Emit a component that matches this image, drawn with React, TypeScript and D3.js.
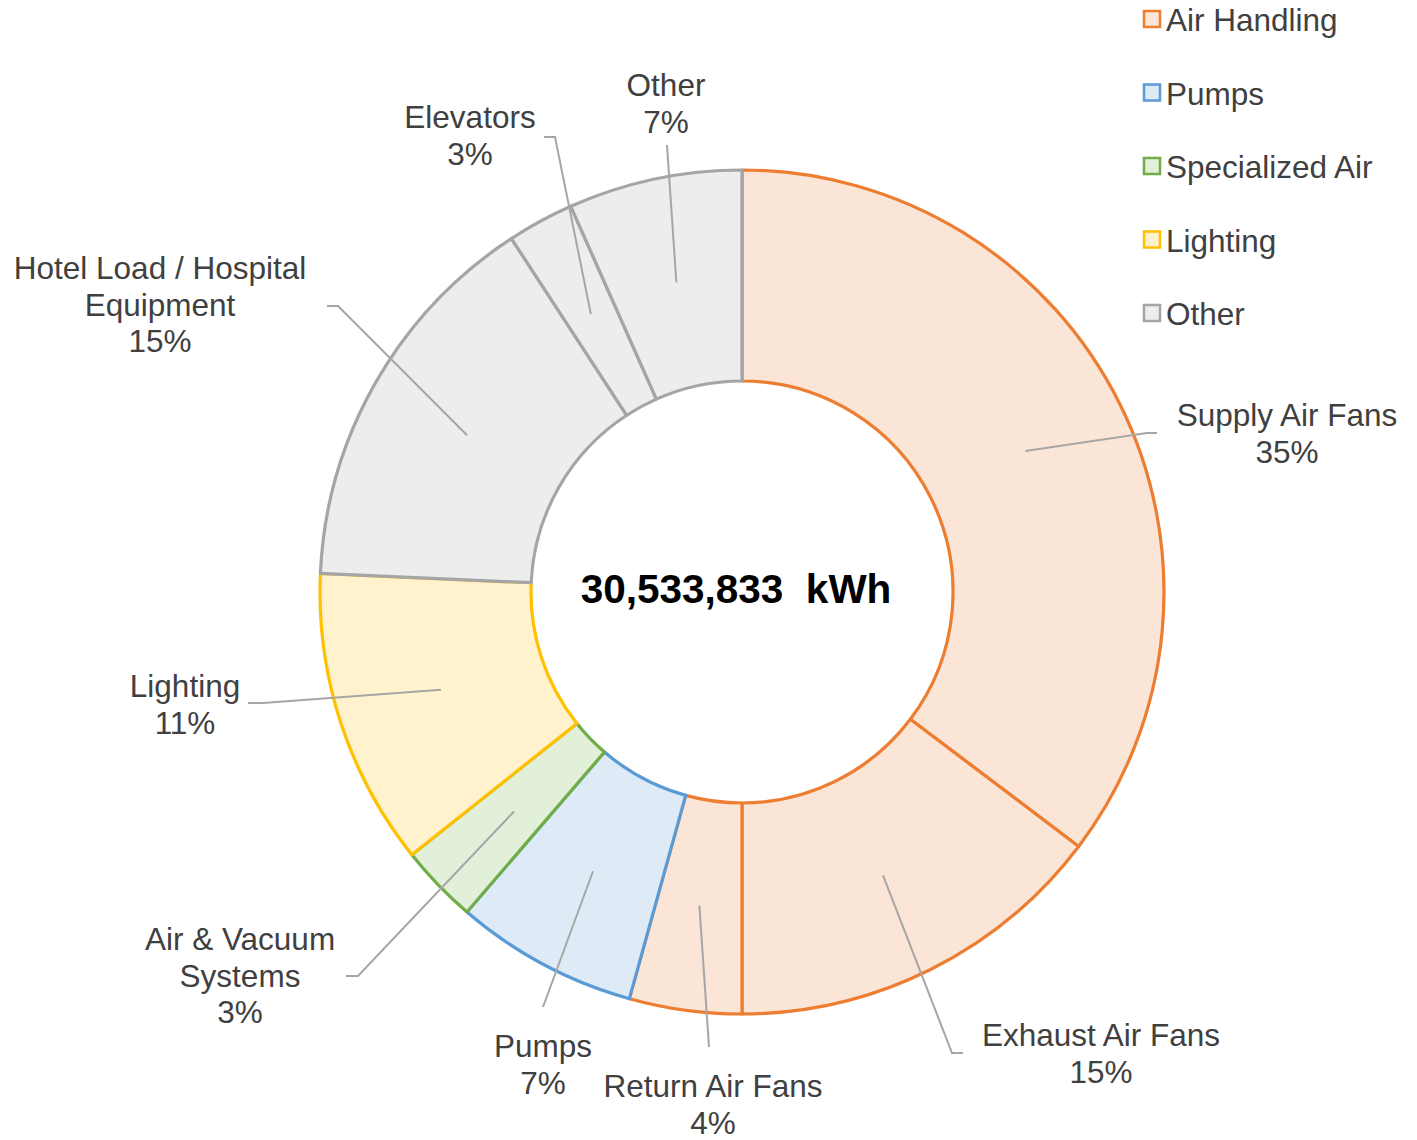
import React from "react";
import * as d3 from "d3";

// slice data, clockwise from 12 o'clock
const categories = [
  "Supply Air Fans",
  "Exhaust Air Fans",
  "Return Air Fans",
  "Pumps",
  "Air & Vacuum Systems",
  "Lighting",
  "Hotel Load / Hospital Equipment",
  "Elevators",
  "Other",
];
const shares = [35.3, 14.7, 4.3, 7.0, 3.0, 11.4, 15.1, 2.55, 6.65];
const groups = [
  "Air Handling",
  "Air Handling",
  "Air Handling",
  "Pumps",
  "Specialized Air",
  "Lighting",
  "Other",
  "Other",
  "Other",
];
const legendGroups = ["Air Handling", "Pumps", "Specialized Air", "Lighting", "Other"];
const totalKWh = 30533833;

// label wrapping as in the original
const labelLines = [
  ["Supply Air Fans"],
  ["Exhaust Air Fans"],
  ["Return Air Fans"],
  ["Pumps"],
  ["Air & Vacuum", "Systems"],
  ["Lighting"],
  ["Hotel Load / Hospital", "Equipment"],
  ["Elevators"],
  ["Other"],
];

const groupColors: Record<string, { stroke: string; fill: string }> = {
  "Air Handling": { stroke: "#ED7D31", fill: "#FBE5D6" },
  Pumps: { stroke: "#5B9BD5", fill: "#DEEBF7" },
  "Specialized Air": { stroke: "#70AD47", fill: "#E2F0D9" },
  Lighting: { stroke: "#FFC000", fill: "#FFF2CC" },
  Other: { stroke: "#A5A5A5", fill: "#EDEDED" },
};

// manual label placement, relative to the donut centre (dragged labels in the source)
const labelLayout = [
  { tx: 545, ty: -166, elbow: [405, -159], tail: [415, -159] },
  { tx: 359, ty: 454, elbow: [210, 461], tail: [221, 461] },
  { tx: -29, ty: 505, elbow: [-33, 455], tail: null },
  { tx: -199, ty: 465, elbow: [-199, 415], tail: null },
  { tx: -502, ty: 358, elbow: [-384, 384], tail: [-396, 384] },
  { tx: -557, ty: 105, elbow: [-479, 111], tail: [-494, 111] },
  { tx: -582, ty: -313, elbow: [-404, -286], tail: [-415, -286] },
  { tx: -272, ty: -464, elbow: [-187, -455], tail: [-198, -455] },
  { tx: -76, ty: -496, elbow: [-75, -447], tail: null },
];

const W = 1417;
const H = 1140;
const cx = 742;
const cy = 592;
const outerR = 422;
const innerR = 211;
const fontFamily = "Arial, 'Liberation Sans', sans-serif";
const textColor = "#404040";
const lineH = 36.5;
const fontSize = 31.5;

export default function App() {
  const pie = d3
    .pie<number>()
    .sort(null)
    .value((d) => d);
  const arcs = pie(shares);
  const arc = d3.arc<d3.PieArcDatum<number>>().innerRadius(innerR).outerRadius(outerR);
  const sum = d3.sum(shares);

  return (
    <div style={{ position: "absolute", left: 0, top: 0 }}>
      <svg width={W} height={H} style={{ display: "block", background: "white" }}>
        <g transform={`translate(${cx},${cy})`}>
          {arcs.map((a, i) => {
            const c = groupColors[groups[i]];
            return (
              <path
                key={categories[i]}
                d={arc(a) || ""}
                fill={c.fill}
                stroke={c.stroke}
                strokeWidth={3.2}
                strokeLinejoin="round"
              />
            );
          })}

          {/* leader lines */}
          {arcs.map((a, i) => {
            const [x0, y0] = arc.centroid(a);
            const l = labelLayout[i];
            const pts: [number, number][] = [[x0, y0], l.elbow as [number, number]];
            if (l.tail) pts.push(l.tail as [number, number]);
            return (
              <path
                key={"leader-" + i}
                d={d3.line()(pts) || ""}
                fill="none"
                stroke="#A6A6A6"
                strokeWidth={2}
              />
            );
          })}

          {/* data labels */}
          {arcs.map((a, i) => {
            const l = labelLayout[i];
            const pct = Math.round((a.data / sum) * 100) + "%";
            const lines = [...labelLines[i], pct];
            return (
              <text
                key={"label-" + i}
                x={l.tx}
                y={l.ty}
                textAnchor="middle"
                fontFamily={fontFamily}
                fontSize={fontSize}
                fill={textColor}
              >
                {lines.map((t, j) => (
                  <tspan key={j} x={l.tx} y={l.ty + j * lineH}>
                    {t}
                  </tspan>
                ))}
              </text>
            );
          })}

          <text
            x={-6}
            y={11}
            textAnchor="middle"
            fontFamily={fontFamily}
            fontWeight="bold"
            fontSize={40.5}
            fill="#000"
            style={{ whiteSpace: "pre" }}
          >
            {d3.format(",")(totalKWh) + "  kWh"}
          </text>
        </g>

        {/* legend */}
        <g transform="translate(1143,0)">
          {legendGroups.map((gName, i) => {
            const c = groupColors[gName];
            const base = 31 + i * 73.5;
            return (
              <g key={gName}>
                <rect
                  x={1}
                  y={base - 20}
                  width={16}
                  height={16}
                  fill={c.fill}
                  stroke={c.stroke}
                  strokeWidth={2.5}
                />
                <text x={23} y={base} fontFamily={fontFamily} fontSize={fontSize} fill={textColor}>
                  {gName}
                </text>
              </g>
            );
          })}
        </g>
      </svg>
    </div>
  );
}
